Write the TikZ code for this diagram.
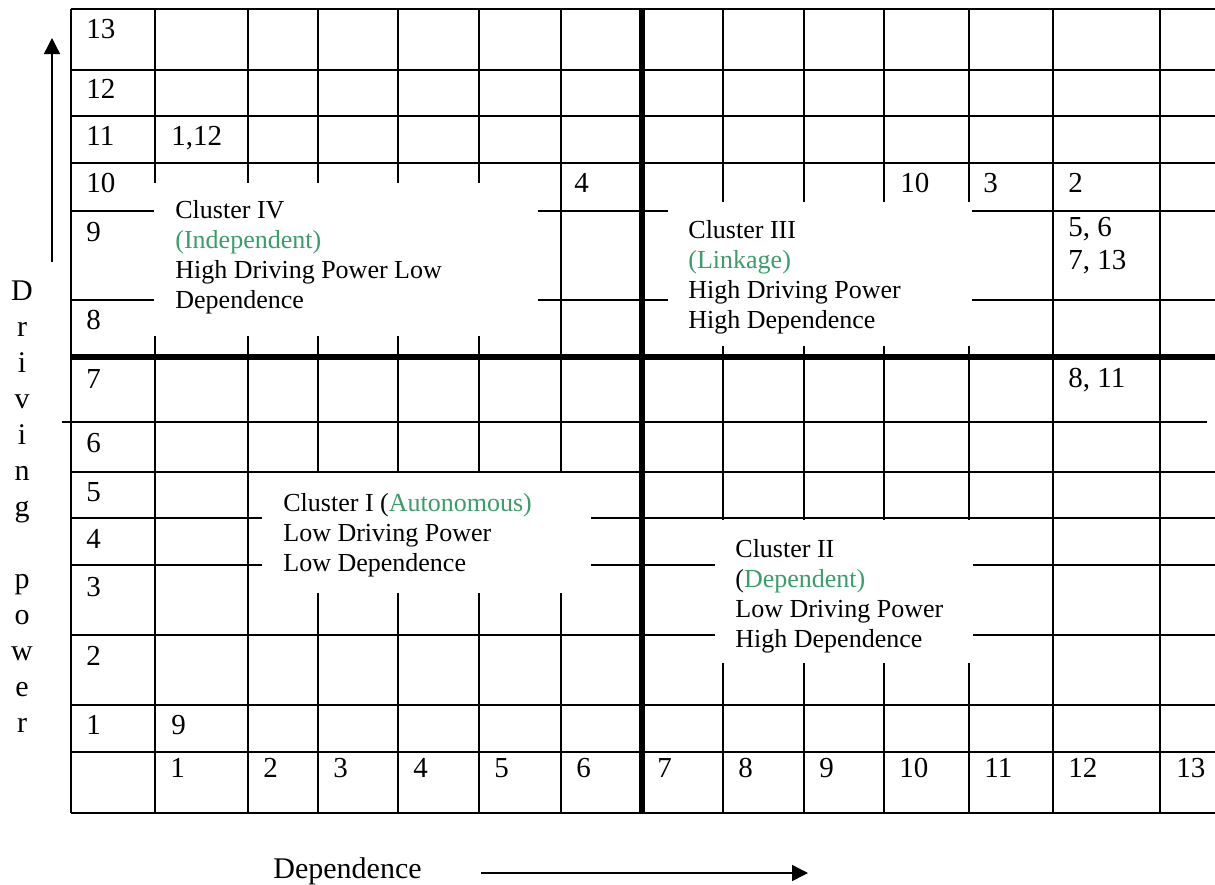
\documentclass[tikz,border=0pt]{standalone}
\usepackage{fontspec}
\setmainfont{Liberation Serif}
\usetikzlibrary{arrows.meta, positioning}
\definecolor{clusterGreen}{HTML}{3A9E6A}

\begin{document}
\begin{tikzpicture}[x=0.5pt, y=-0.5pt,
    gridline/.style={line width=0.9pt},
    divline/.style={line width=3.3pt},
    cellnum/.style={anchor=north west, inner sep=0pt, align=left,
                    font=\fontsize{14.5}{16.5}\selectfont},
    clustertext/.style={anchor=north west, inner sep=0pt, align=left,
                    font=\fontsize{13}{15}\selectfont},
    axislabel/.style={inner sep=0pt, font=\fontsize{15}{18}\selectfont},
    axisarrow/.style={-{Triangle[length=8pt, width=8pt]}, line width=0.7pt},
  ]
  \useasboundingbox (0,0) rectangle (1215,884);

  % grid
  \foreach \x in {71,155,248,318,398,479,561,723,804,884,969,1053,1160}
    \draw[gridline] (\x,9) -- (\x,813);
  \foreach \y in {9,70,116,163,211,300,472,518,565,635,705,752,813}
    \draw[gridline] (71,\y) -- (1215,\y);
  \draw[gridline] (62,422) -- (1207,422);

  % cluster areas
  \fill[white] (154,183) rectangle (538,336);
  \fill[white] (668,202) rectangle (972,346);
  \fill[white] (262,473) rectangle (591,593);
  \fill[white] (715,520) rectangle (973,663);

  % quadrant borders
  \draw[divline] (642,9) -- (642,813);
  \draw[divline] (71,357) -- (1215,357);

  % driving power scale
  \foreach \n/\y in {13/19, 12/79, 11/126, 10/173, 9/222, 8/310, 7/369,
                     6/433, 5/482, 4/529, 3/577, 2/646, 1/715}
    \node[cellnum] (row\n) at (86,\y) {\n};
  % dependence scale
  \foreach \n/\x in {1/170, 2/263, 3/333, 4/413, 5/494, 6/576, 7/657,
                     8/738, 9/819, 10/899, 11/984, 12/1068, 13/1176}
    \node[cellnum] (col\n) at (\x,758) {\n};

  % variables
  \node[cellnum] (var1) at (171,126) {1,12};
  \node[cellnum] (var4) at (574,173) {4};
  \node[cellnum] (var10) at (900,173) {10};
  \node[cellnum] (var3) at (983,173) {3};
  \node[cellnum] (var2) at (1068,173) {2};
  \node[cellnum] (var5) at (1068,217) {5, 6\\7, 13};
  \node[cellnum] (var8) at (1068,368) {8, 11};
  \node[cellnum] (var9) at (171,715) {9};

  % clusters
  \node[clustertext] (clusterIV) at (175,200)
    {Cluster IV\\
     \textcolor{clusterGreen}{(Independent)}\\
     High Driving Power Low\\
     Dependence};
  \node[clustertext] (clusterIII) at (688,220)
    {Cluster III\\
     \textcolor{clusterGreen}{(Linkage)}\\
     High Driving Power\\
     High Dependence};
  \node[clustertext] (clusterI) at (283,493)
    {Cluster I (\textcolor{clusterGreen}{Autonomous)}\\
     Low Driving Power\\
     Low Dependence};
  \node[clustertext] (clusterII) at (735,539)
    {Cluster II\\
     (\textcolor{clusterGreen}{Dependent)}\\
     Low Driving Power\\
     High Dependence};

  % axes
  \node[axislabel, anchor=north, align=center] (drvlabel) at (22,280)
    {D\\r\\i\\v\\i\\n\\g\\[18pt]p\\o\\w\\e\\r};
  \coordinate (drvTail) at (52,262);
  \coordinate (drvHead) at (52,38);
  \draw[axisarrow] (drvTail) -- (drvHead);

  \node[axislabel, anchor=north west] (deplabel) at (273,857) {Dependence};
  \coordinate (depTail) at (481,873);
  \coordinate (depHead) at (808,873);
  \draw[axisarrow] (depTail) -- (depHead);
\end{tikzpicture}
\end{document}
